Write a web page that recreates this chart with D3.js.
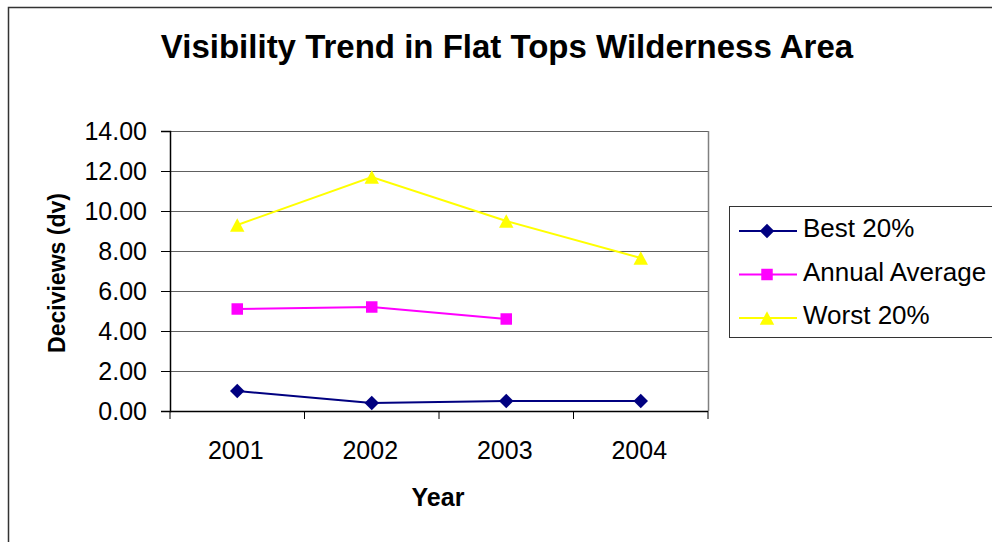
<!DOCTYPE html>
<html>
<head>
<meta charset="utf-8">
<script src="https://cdn.jsdelivr.net/npm/d3@7"></script>
<style>
  html, body { margin: 0; padding: 0; background: #fff; }
  svg { display: block; font-family: "Liberation Sans", Arial, sans-serif; }
</style>
</head>
<body>
<svg id="chart" width="992" height="542"></svg>
<script>
// Visibility data (deciviews) by year
const years = ["2001", "2002", "2003", "2004"];
const best20 = [1.0, 0.4, 0.5, 0.5];
const annualAverage = [5.1, 5.2, 4.6, null];
const worst20 = [9.3, 11.7, 9.5, 7.65];
const yTicks = [0, 2, 4, 6, 8, 10, 12, 14];

// diamond drawn as a square turned 45 degrees
const squareDiamond = {
  draw(ctx, size) {
    const r = Math.sqrt(size) / Math.SQRT2;
    ctx.moveTo(0, -r); ctx.lineTo(r, 0); ctx.lineTo(0, r); ctx.lineTo(-r, 0); ctx.closePath();
  }
};
// triangle centred on its bounding box
const boxTriangle = {
  draw(ctx, size) {
    const w = Math.sqrt(size * 4 / Math.sqrt(3));
    const h = w * 0.93;
    ctx.moveTo(0, -h / 2); ctx.lineTo(w / 2, h / 2); ctx.lineTo(-w / 2, h / 2); ctx.closePath();
  }
};

const series = [
  { name: "Best 20%", values: best20, color: "#000080", symbol: squareDiamond, size: 105 },
  { name: "Annual Average", values: annualAverage, color: "#ff00ff", symbol: d3.symbolSquare, size: 132 },
  { name: "Worst 20%", values: worst20, color: "#ffff00", symbol: boxTriangle, size: 90 }
];

const svg = d3.select("#chart");

// outer chart frame
svg.append("rect")
  .attr("x", 8.5).attr("y", 7.5)
  .attr("width", 1000).attr("height", 600)
  .attr("fill", "#fff").attr("stroke", "#333").attr("stroke-width", 1.5);

const plot = { left: 170, right: 708, top: 131, bottom: 411 };

const x = d3.scaleBand().domain(years).range([plot.left, plot.right]);
const y = d3.scaleLinear().domain([0, 14]).range([plot.bottom, plot.top]);

// gridlines
svg.append("g")
  .selectAll("line")
  .data(yTicks.filter(t => t > 0))
  .join("line")
  .attr("x1", plot.left).attr("x2", plot.right)
  .attr("y1", d => Math.round(y(d)) + 0.5).attr("y2", d => Math.round(y(d)) + 0.5)
  .attr("stroke", "#606060").attr("stroke-width", 1);

// right border of plot area
svg.append("line")
  .attr("x1", plot.right + 0.5).attr("x2", plot.right + 0.5)
  .attr("y1", plot.top).attr("y2", plot.bottom)
  .attr("stroke", "#808080").attr("stroke-width", 1.5);

// y axis
const yAxis = d3.axisLeft(y).tickValues(yTicks).tickSize(9).tickPadding(14)
  .tickFormat(d3.format(".2f"));
svg.append("g")
  .attr("transform", `translate(${plot.left},0)`)
  .call(yAxis)
  .call(g => g.select(".domain").attr("stroke", "#000").attr("stroke-width", 1.5))
  .call(g => g.selectAll(".tick line").attr("stroke", "#000"))
  .call(g => g.selectAll("text").attr("font-size", 25).attr("fill", "#000")
    .attr("font-family", "'Liberation Sans', Arial, sans-serif"));

// x axis with tick marks at category boundaries
const xg = svg.append("g").attr("transform", `translate(0,${plot.bottom})`);
xg.append("line")
  .attr("x1", plot.left).attr("x2", plot.right)
  .attr("y1", 0.5).attr("y2", 0.5)
  .attr("stroke", "#000").attr("stroke-width", 1.5);
const bounds = years.map(d => x(d)).concat([plot.right]);
xg.selectAll("line.tk")
  .data(bounds)
  .join("line").attr("class", "tk")
  .attr("x1", d => d).attr("x2", d => d)
  .attr("y1", 0).attr("y2", 8)
  .attr("stroke", "#000");
xg.selectAll("text")
  .data(years)
  .join("text")
  .attr("x", d => x(d) + x.bandwidth() / 2 - 1.5)
  .attr("y", 48)
  .attr("text-anchor", "middle")
  .attr("font-size", 25)
  .text(d => d);

// series lines and markers
const cx = d => x(d) + x.bandwidth() / 2;
series.forEach(s => {
  const pts = years.map((yr, i) => ({ yr, v: s.values[i] })).filter(p => p.v != null);
  svg.append("path")
    .datum(pts)
    .attr("fill", "none")
    .attr("stroke", s.color)
    .attr("stroke-width", 2)
    .attr("d", d3.line().x(p => cx(p.yr)).y(p => y(p.v)));
  svg.append("g")
    .selectAll("path")
    .data(pts)
    .join("path")
    .attr("transform", p => `translate(${cx(p.yr)},${y(p.v)})`)
    .attr("d", d3.symbol().type(s.symbol).size(s.size))
    .attr("fill", s.color);
});

// title
svg.append("text")
  .attr("x", 507).attr("y", 58)
  .attr("text-anchor", "middle")
  .attr("font-size", 33).attr("font-weight", "bold")
  .text("Visibility Trend in Flat Tops Wilderness Area");

// axis titles
svg.append("text")
  .attr("transform", "translate(65,273) rotate(-90)")
  .attr("text-anchor", "middle")
  .attr("font-size", 23).attr("font-weight", "bold")
  .text("Deciviews (dv)");
svg.append("text")
  .attr("x", 438).attr("y", 506)
  .attr("text-anchor", "middle")
  .attr("font-size", 25).attr("font-weight", "bold")
  .text("Year");

// legend
const lg = svg.append("g");
lg.append("rect")
  .attr("x", 729.5).attr("y", 206.5)
  .attr("width", 300).attr("height", 131)
  .attr("fill", "#fff").attr("stroke", "#333").attr("stroke-width", 1);
series.forEach((s, i) => {
  const ry = 231 + i * 43.5;
  lg.append("line")
    .attr("x1", 739).attr("x2", 797).attr("y1", ry).attr("y2", ry)
    .attr("stroke", s.color).attr("stroke-width", 2);
  lg.append("path")
    .attr("transform", `translate(767,${ry})`)
    .attr("d", d3.symbol().type(s.symbol).size(s.size))
    .attr("fill", s.color);
  lg.append("text")
    .attr("x", 803).attr("y", ry + 6)
    .attr("font-size", 26)
    .text(s.name);
});
</script>
</body>
</html>
